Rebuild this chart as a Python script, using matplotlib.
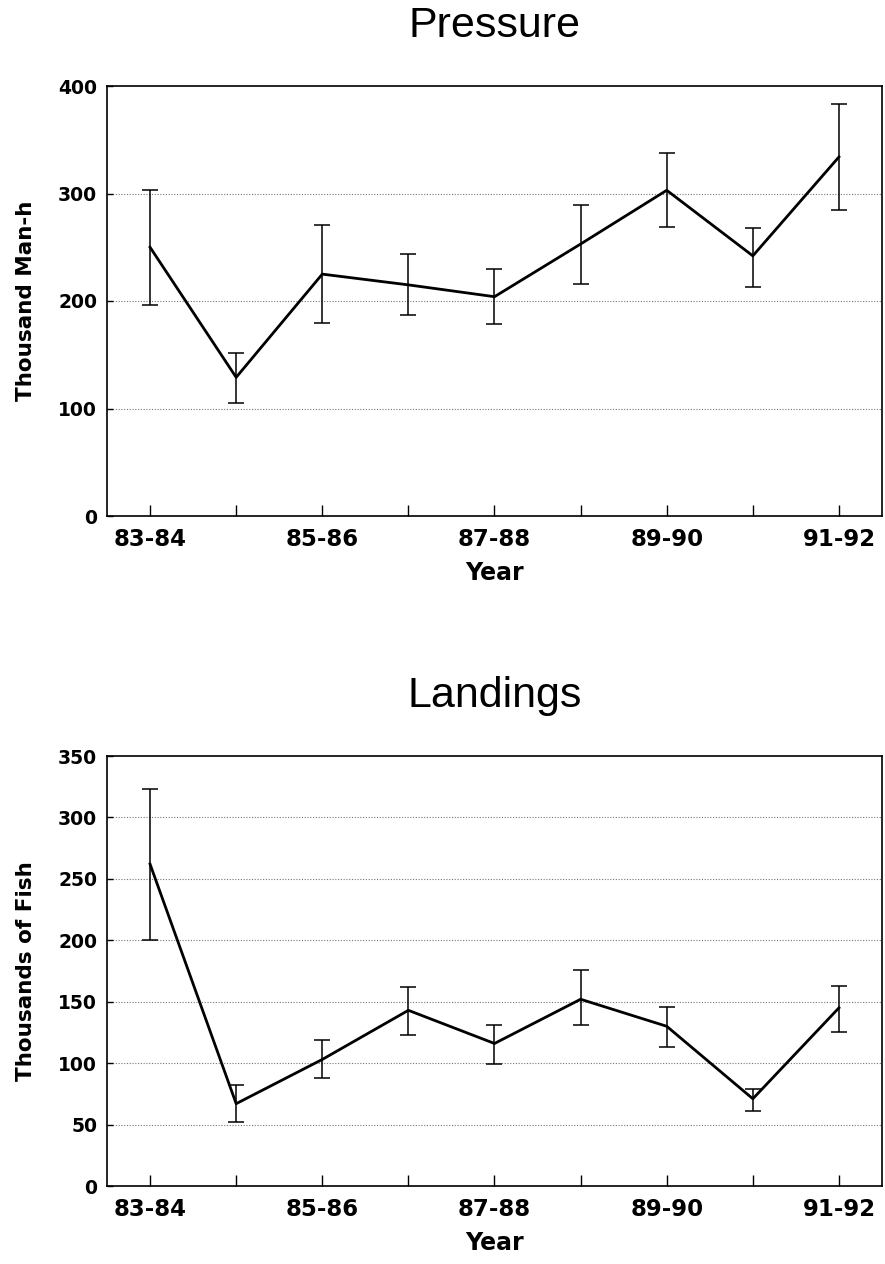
import numpy as np
import matplotlib.pyplot as plt

# seasons, one point per season; only every other one gets a label
seasons = ['83-84', '84-85', '85-86', '86-87', '87-88',
           '88-89', '89-90', '90-91', '91-92']

# Pressure (thousand man-hours)
pressure = [250, 129, 225, 215, 204, 253, 303, 242, 334]
pressure_lo = [196, 105, 180, 187, 179, 216, 269, 213, 285]
pressure_hi = [303, 152, 271, 244, 230, 289, 338, 268, 383]

# Landings (thousands of fish)
landings = [262, 67, 103, 143, 116, 152, 130, 71, 145]
landings_lo = [200, 52, 88, 123, 99, 131, 113, 61, 125]
landings_hi = [323, 82, 119, 162, 131, 176, 146, 79, 163]

W, H = 885, 1264
fig = plt.figure(figsize=(W / 100, H / 100), dpi=100)

tick_font = dict(family='DejaVu Sans', weight='bold')


def panel(rect, title, ylabel, y, lo, hi, ymax, ystep):
    ax = fig.add_axes(rect)
    x = np.arange(len(seasons))
    y = np.array(y)
    err = [y - np.array(lo), np.array(hi) - y]
    ax.errorbar(x, y, yerr=err, color='black', lw=2.0, elinewidth=1.1,
                capsize=5.5, capthick=1.1, zorder=3)
    ax.set_xlim(-0.5, 8.5)
    ax.set_ylim(0, ymax)
    ax.set_xticks(x)
    ax.set_xticklabels([s if i % 2 == 0 else '' for i, s in enumerate(seasons)],
                       fontsize=16.5, **tick_font)
    yt = np.arange(0, ymax + 1, ystep)
    ax.set_yticks(yt)
    ax.set_yticklabels([str(v) for v in yt], fontsize=13.5, **tick_font)
    ax.tick_params(axis='x', direction='in', length=8, width=1, pad=9)
    ax.tick_params(axis='y', direction='in', length=4, width=1, pad=7)
    for v in yt[1:-1]:
        ax.axhline(v, color='#777777', lw=0.8, ls=(0, (1, 1.5)), zorder=1)
    for s in ax.spines.values():
        s.set_linewidth(1.2)
    ax.set_title(title, fontsize=31, family='Liberation Sans', pad=35)
    ax.set_xlabel('Year', fontsize=17, labelpad=7, **tick_font)
    ax.set_ylabel(ylabel, fontsize=15.5, labelpad=16, **tick_font)
    return ax


panel([107 / W, 1 - 516 / H, 775 / W, 430 / H], 'Pressure', 'Thousand Man-h',
      pressure, pressure_lo, pressure_hi, 400, 100)
panel([107 / W, 1 - 1186 / H, 775 / W, 430 / H], 'Landings', 'Thousands of Fish',
      landings, landings_lo, landings_hi, 350, 50)

fig.savefig('out.png', dpi=100)
